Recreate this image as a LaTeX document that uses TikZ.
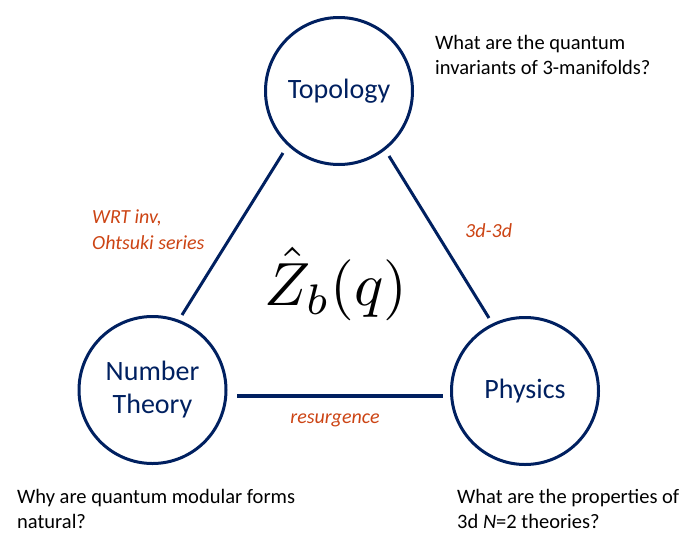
\documentclass[tikz,border=0pt]{standalone}
\usepackage{fontspec}
\setmainfont{Carlito}
\definecolor{navy}{RGB}{0,32,96}
\definecolor{rust}{RGB}{204,68,20}
\begin{document}
\begin{tikzpicture}[x=1pt,y=-1pt,
  topic/.style={circle,draw=navy,line width=3pt,minimum size=147pt,inner sep=0pt,
    text=navy,align=center,font=\fontsize{28}{33}\selectfont},
  link/.style={draw=navy,line width=3pt},
  thick link/.style={draw=navy,line width=4.5pt},
  edgelabel/.style={text=rust,align=left,inner sep=0pt,font=\fontsize{20}{26}\selectfont\itshape},
  question/.style={text=black,align=left,inner sep=0pt,font=\fontsize{20.5}{24.5}\selectfont}]
\useasboundingbox (0,0) rectangle (693,541);
\node[topic] (top) at (339,91) {Topology};
\node[topic] (nt) at (152.5,390) {Number\\Theory};
\node[topic] (phys) at (525,391) {Physics};
\coordinate (tl) at (283,153);
\coordinate (nl) at (182,315);
\coordinate (tr) at (389,156);
\coordinate (pr) at (489,318);
\coordinate (nh) at (237,396);
\coordinate (ph) at (443,396);
\draw[link] (tl) -- (nl);
\draw[link] (tr) -- (pr);
\draw[thick link] (nh) -- (ph);
\node[edgelabel,anchor=base west] (wrt) at (92,249) {WRT inv,\\Ohtsuki series};
\node[edgelabel,anchor=base west] (ddd) at (465,237) {3d-3d};
\node[edgelabel,anchor=base] (res) at (335,423) {resurgence};
\node[anchor=base,inner sep=0pt] (z) at (336,305) {\scalebox{6.1}{$\hat{Z}_b(q)$}};
\node[question,anchor=base west] (q1) at (435,74) {What are the quantum\\invariants of 3-manifolds?};
\node[question,anchor=base west] (q2) at (17,528) {Why are quantum modular forms\\natural?};
\node[question,anchor=base west] (q3) at (457,528) {What are the properties of\\3d \textit{N}=2 theories?};
\end{tikzpicture}
\end{document}
